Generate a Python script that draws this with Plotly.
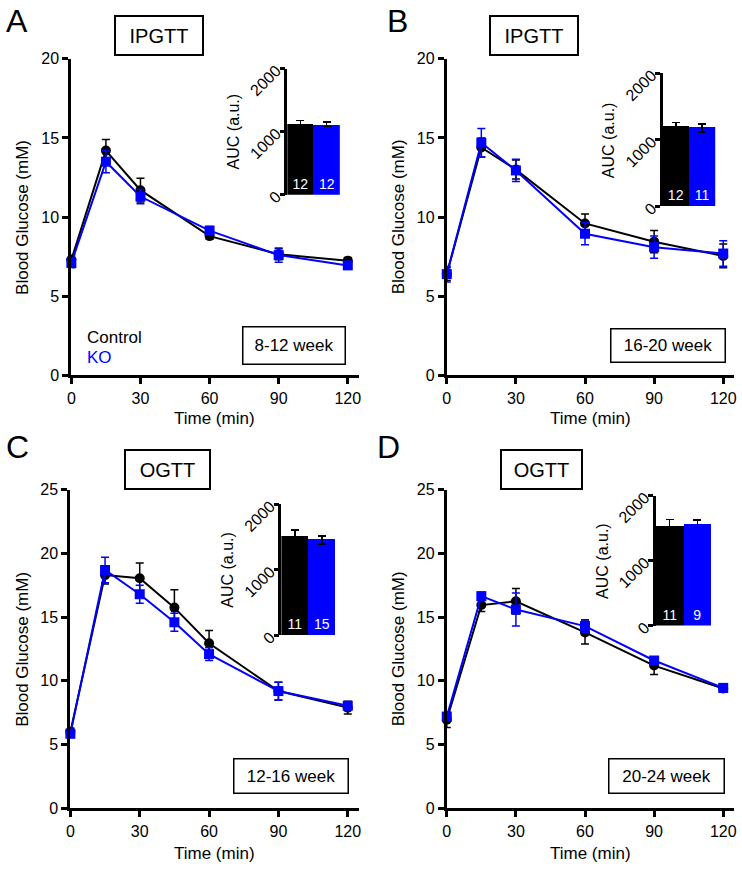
import plotly.graph_objects as go

W, H = 742, 876
FONT = "Liberation Sans, Arial, sans-serif"
BLUE = "#0000FF"

# ---------------- data ----------------
time_ab = [0, 15, 30, 60, 90, 120]
time_c = [0, 15, 30, 45, 60, 90, 120]
time_d = [0, 15, 30, 60, 90, 120]

a_ctrl = [7.3, 14.2, 11.7, 8.8, 7.65, 7.25]
a_ctrl_err = [0.3, 0.7, 0.75, 0.2, 0.35, 0.2]
a_ko = [7.1, 13.5, 11.3, 9.15, 7.6, 6.95]
a_ko_err = [0.3, 0.7, 0.45, 0.25, 0.45, 0.2]

b_ctrl = [6.4, 14.4, 13.0, 9.6, 8.45, 7.55]
b_ctrl_err = [0.4, 0.6, 0.6, 0.6, 0.7, 0.75]
b_ko = [6.4, 14.7, 12.95, 8.95, 8.1, 7.7]
b_ko_err = [0.5, 0.9, 0.7, 0.7, 0.7, 0.8]

c_ctrl = [6.0, 18.3, 18.05, 15.75, 12.95, 9.2, 7.9]
c_ctrl_err = [0.3, 0.7, 1.2, 1.4, 1.0, 0.7, 0.5]
c_ko = [5.85, 18.7, 16.8, 14.6, 12.1, 9.2, 8.05]
c_ko_err = [0.3, 1.0, 0.7, 0.7, 0.5, 0.7, 0.3]

d_ctrl = [6.95, 15.95, 16.25, 13.8, 11.2, 9.4]
d_ctrl_err = [0.6, 0.5, 1.0, 0.9, 0.7, 0.3]
d_ko = [7.2, 16.65, 15.6, 14.3, 11.6, 9.45]
d_ko_err = [0.3, 0.3, 1.3, 0.5, 0.3, 0.3]

groups = ["Control", "KO"]
auc_a = [1130, 1115]; auc_a_err = [50, 35]; n_a = [12, 12]
auc_b = [1196, 1181]; auc_b_err = [65, 60]; n_b = [12, 11]
auc_c = [1507, 1458]; auc_c_err = [100, 60]; n_c = [11, 15]
auc_d = [1544, 1568]; auc_d_err = [85, 55]; n_d = [11, 9]

x_ticks = [0, 30, 60, 90, 120]
auc_ticks = [0, 1000, 2000]

panel_letters = ["A", "B", "C", "D"]
tests = ["IPGTT", "IPGTT", "OGTT", "OGTT"]
ages = ["8-12 week", "16-20 week", "12-16 week", "20-24 week"]


def px(p):
    return p / W


def py(p):
    return 1 - p / H


fig = go.Figure()

panels = [
    dict(t=time_ab, c=a_ctrl, ce=a_ctrl_err, k=a_ko, ke=a_ko_err, auc=auc_a, auce=auc_a_err, n=n_a,
         xd=(68, 358), yd=(52, 376), ymax=20, ix=(286, 339), iy=(62, 191),
         letter=(13.5, 13), title=(156, 28.5, 88, 39), age=(292.5, 345, 103, 38), ytit=18, xtit=420),
    dict(t=time_ab, c=b_ctrl, ce=b_ctrl_err, k=b_ko, ke=b_ko_err, auc=auc_b, auce=auc_b_err, n=n_b,
         xd=(447, 737), yd=(52, 376), ymax=20, ix=(665, 718), iy=(67, 203),
         letter=(397, 13), title=(535, 28.5, 88, 39), age=(670.5, 345, 115, 34), ytit=398, xtit=420),
    dict(t=time_c, c=c_ctrl, ce=c_ctrl_err, k=c_ko, ke=c_ko_err, auc=auc_c, auce=auc_c_err, n=n_c,
         xd=(67, 358), yd=(493, 819), ymax=25, ix=(280, 335), iy=(508, 642),
         letter=(13.5, 449), title=(165.5, 472.5, 85, 39), age=(289.5, 785.5, 115, 35), ytit=18, xtit=865),
    dict(t=time_d, c=d_ctrl, ce=d_ctrl_err, k=d_ko, ke=d_ko_err, auc=auc_d, auce=auc_d_err, n=n_d,
         xd=(447, 737), yd=(493, 819), ymax=25, ix=(658, 714), iy=(499, 632),
         letter=(388.5, 449), title=(542.5, 472.5, 81, 39), age=(669, 785.5, 116, 35), ytit=398, xtit=865),
]

layout = dict(
    width=W, height=H, autosize=False, margin=dict(l=0, r=0, t=0, b=0),
    paper_bgcolor="white", plot_bgcolor="white",
    showlegend=False, bargap=0,
    font=dict(family=FONT, size=16, color="black"),
)
annotations = []

for i, p in enumerate(panels):
    mx = 2 * i + 1
    ix = 2 * i + 2
    mxn = "x" if mx == 1 else f"x{mx}"
    myn = "y" if mx == 1 else f"y{mx}"
    ixn = f"x{ix}"
    iyn = f"y{ix}"

    fig.add_trace(go.Scatter(
        x=p["t"], y=p["c"], xaxis=mxn, yaxis=myn, mode="lines+markers",
        line=dict(color="black", width=2),
        marker=dict(symbol="circle", size=10, color="black"),
        error_y=dict(type="data", array=p["ce"], color="black", thickness=1.5, width=4),
        cliponaxis=False, name="Control"))
    fig.add_trace(go.Scatter(
        x=p["t"], y=p["k"], xaxis=mxn, yaxis=myn, mode="lines+markers",
        line=dict(color=BLUE, width=2),
        marker=dict(symbol="square", size=10, color=BLUE),
        error_y=dict(type="data", array=p["ke"], color=BLUE, thickness=1.5, width=4),
        cliponaxis=False, name="KO"))

    fig.add_trace(go.Bar(
        x=groups, y=p["auc"], xaxis=ixn, yaxis=iyn,
        marker=dict(color=["black", BLUE], line=dict(width=0)),
        error_y=dict(type="data", array=p["auce"], color="black", thickness=1.5, width=4),
        text=[str(v) for v in p["n"]], textposition="inside", insidetextanchor="start",
        textangle=0, textfont=dict(color="white", size=14, family=FONT),
        cliponaxis=False))

    axcommon = dict(showgrid=False, zeroline=False, showline=True, linecolor="black",
                    linewidth=3, ticks="outside", ticklen=6, tickwidth=3, tickcolor="black",
                    tickfont=dict(size=16, family=FONT, color="black"))
    layout["xaxis" if mx == 1 else f"xaxis{mx}"] = dict(
        domain=[px(p["xd"][0]), px(p["xd"][1])], range=[0, 124.7],
        tickvals=x_ticks, anchor=myn, **axcommon)
    layout[f"yaxis{'' if mx == 1 else mx}"] = dict(
        domain=[py(p["yd"][1]), py(p["yd"][0])], range=[0, p["ymax"]],
        tickvals=list(range(0, p["ymax"] + 1, 5)), anchor=mxn, **axcommon)

    layout[f"xaxis{ix}"] = dict(
        domain=[px(p["ix"][0]), px(p["ix"][1])], range=[-0.5, 1.5],
        showgrid=False, zeroline=False, showline=False, showticklabels=False,
        ticks="", anchor=iyn)
    layout[f"yaxis{ix}"] = dict(
        domain=[py(p["iy"][1]), py(p["iy"][0])], range=[0, 2000],
        tickvals=auc_ticks, tickangle=-45, anchor=ixn,
        showgrid=False, zeroline=False, showline=True, linecolor="black", linewidth=2.5,
        ticks="outside", ticklen=5, tickwidth=2.5, tickcolor="black",
        tickfont=dict(size=16, family=FONT, color="black"))

    annotations.append(dict(
        text="AUC (a.u.)", textangle=-90, xref="paper", yref="paper",
        x=px(p["ix"][0] - 54), y=py((p["iy"][0] + p["iy"][1]) / 2),
        showarrow=False, font=dict(size=16, family=FONT, color="black"),
        xanchor="center", yanchor="middle"))
    annotations.append(dict(
        text="Blood Glucose (mM)", textangle=-90, xref="paper", yref="paper",
        x=px(p["ytit"]), y=py((p["yd"][0] + p["yd"][1]) / 2),
        showarrow=False, font=dict(size=17, family=FONT, color="black"),
        xanchor="center", yanchor="middle"))
    annotations.append(dict(
        text="Time (min)", xref="paper", yref="paper",
        x=px((p["xd"][0] + p["xd"][1]) / 2), y=py(p["xtit"]),
        showarrow=False, font=dict(size=17, family=FONT, color="black"),
        xanchor="center", yanchor="middle"))
    annotations.append(dict(
        text=panel_letters[i], xref="paper", yref="paper",
        x=px(p["letter"][0]), y=py(p["letter"][1]),
        showarrow=False, font=dict(size=32, family=FONT, color="black"),
        xanchor="center", yanchor="middle"))
    tx, ty, tw, th = p["title"]
    annotations.append(dict(
        text=tests[i], xref="paper", yref="paper", x=px(tx), y=py(ty),
        showarrow=False, font=dict(size=20, family=FONT, color="black"),
        xanchor="center", yanchor="middle", width=tw - 2, height=th - 2,
        bordercolor="black", borderwidth=2, borderpad=0, bgcolor="white"))
    axx, ayy, aw, ah = p["age"]
    annotations.append(dict(
        text=ages[i], xref="paper", yref="paper", x=px(axx), y=py(ayy),
        showarrow=False, font=dict(size=17, family=FONT, color="black"),
        xanchor="center", yanchor="middle", width=aw - 2, height=ah - 2,
        bordercolor="black", borderwidth=1.5, borderpad=0, bgcolor="white"))

annotations.append(dict(text="Control", xref="paper", yref="paper", x=px(82), y=py(337),
                        showarrow=False, xanchor="left", yanchor="middle",
                        font=dict(size=17, family=FONT, color="black")))
annotations.append(dict(text="KO", xref="paper", yref="paper", x=px(82), y=py(358),
                        showarrow=False, xanchor="left", yanchor="middle",
                        font=dict(size=17, family=FONT, color=BLUE)))

layout["annotations"] = annotations
fig.update_layout(**layout)

post = """
(function(){
  var s = document.createElement('style');
  s.innerHTML = 'html,body{margin:0!important;padding:0!important;overflow:hidden!important;width:%dpx;height:%dpx;}';
  document.head.appendChild(s);
})();
""" % (W, H)
fig.write_html("out.html", config={"responsive": False, "displayModeBar": False}, post_script=post)
